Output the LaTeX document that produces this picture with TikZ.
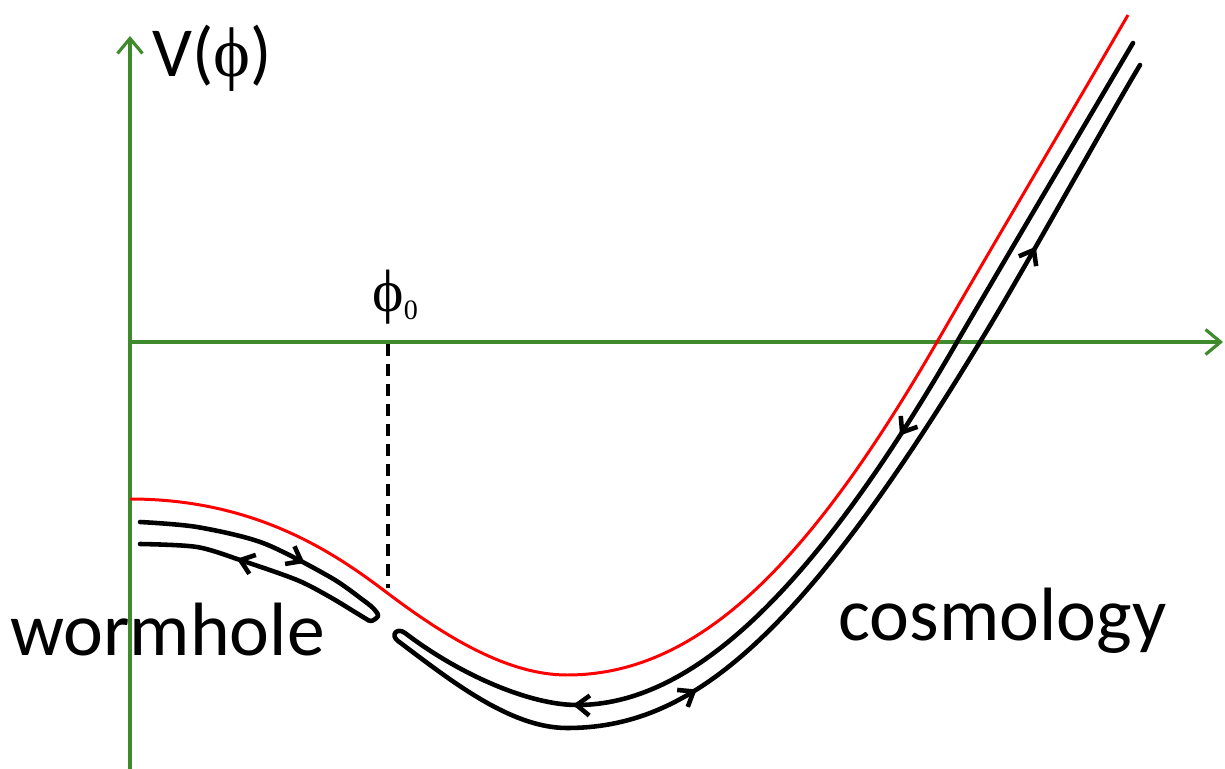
\documentclass[tikz,border=0pt]{standalone}
\usepackage{fontspec}
\setmainfont{Carlito}
\newfontfamily\greekfont{Liberation Serif}
\usetikzlibrary{arrows.meta, decorations.markings}
\definecolor{axisgreen}{RGB}{64,138,46}

\begin{document}
\begin{tikzpicture}[x=0.2mm, y=-0.2mm]

\tikzset{axis/.style = {draw=axisgreen, line width=1.8pt, -{Straight Barb[length=3mm,width=5mm]}}}
\tikzset{potential/.style = {draw=red, line width=1.7pt}}
\tikzset{flow/.style = {draw, line width=2.6pt, line cap=round, line join=round,
  postaction={decorate}, decoration={markings, #1}}}
\tikzset{label/.style = {inner sep=0pt, font=\fontsize{43pt}{50pt}\selectfont}}
\useasboundingbox (0,0) rectangle (1225,769);

% labels
\node[label, anchor=base west] (worm) at (10,655) {wormhole};
\node[label, anchor=base west] (cosmo) at (838,640) {cosmology};
\node[inner sep=0pt, anchor=base west, font=\fontsize{40pt}{46pt}\selectfont] (vphi) at (152,77) {V({\greekfont ϕ})};

% axes
\coordinate (ybot) at (130,769);
\coordinate (ytop) at (130,36);
\coordinate (o) at (130,342);
\coordinate (xend) at (1223,342);
\draw[axis] (ybot) -- (ytop);
\draw[axis] (o) -- (xend);

% phi_0
\coordinate (phi0) at (388,344);
\coordinate (phi0v) at (388,588);
\draw[dashed, line width=2pt, dash pattern=on 2.4mm off 1.6mm] (phi0) -- (phi0v);
\node[inner sep=0pt, anchor=base west, font=\fontsize{34pt}{40pt}\selectfont\greekfont] (phizero) at (372,312) {ϕ\raisebox{-1.5mm}{\fontsize{16pt}{18pt}\selectfont 0}};

% potential
\draw[potential] (130,499) .. controls (260,499) and (340,557) .. (390,595)
  .. controls (450,640) and (510,675) .. (567,675)
  .. controls (697,675) and (807,567) .. (937,342)
  .. controls (1000,233) and (1070,115) .. (1128,15);

% wormhole
\draw[flow={mark=at position 0.33 with {\arrow{Straight Barb[length=2.6mm,width=4mm]}},
            mark=at position 0.81 with {\arrow{Straight Barb[length=2.6mm,width=4mm]}}}]
  plot[smooth, tension=0.5] coordinates {(140,522) (197,527) (263,543) (330,577) (363,600) (374,609) (378,616) (371,621) (363,617) (330,597) (297,580) (243,561) (197,547) (140,544)};

% cosmology
\draw[flow={mark=at position 0.207 with {\arrow{Straight Barb[length=2.6mm,width=4mm]}},
            mark=at position 0.407 with {\arrow{Straight Barb[length=2.6mm,width=4mm]}},
            mark=at position 0.65 with {\arrow{Straight Barb[length=2.6mm,width=4mm]}},
            mark=at position 0.905 with {\arrow{Straight Barb[length=2.6mm,width=4mm]}}}]
  (1133,43) .. controls (1093,111) and (1000,268) .. (957,342)
  .. controls (807,602) and (687,705) .. (577,705)
  .. controls (530,705) and (460,675) .. (405,633)
  .. controls (397,627) and (390,635) .. (398,641)
  .. controls (450,680) and (510,728) .. (567,728)
  .. controls (687,728) and (795,647) .. (980,342)
  .. controls (1020,277) and (1100,132) .. (1140,65);

\end{tikzpicture}
\end{document}
